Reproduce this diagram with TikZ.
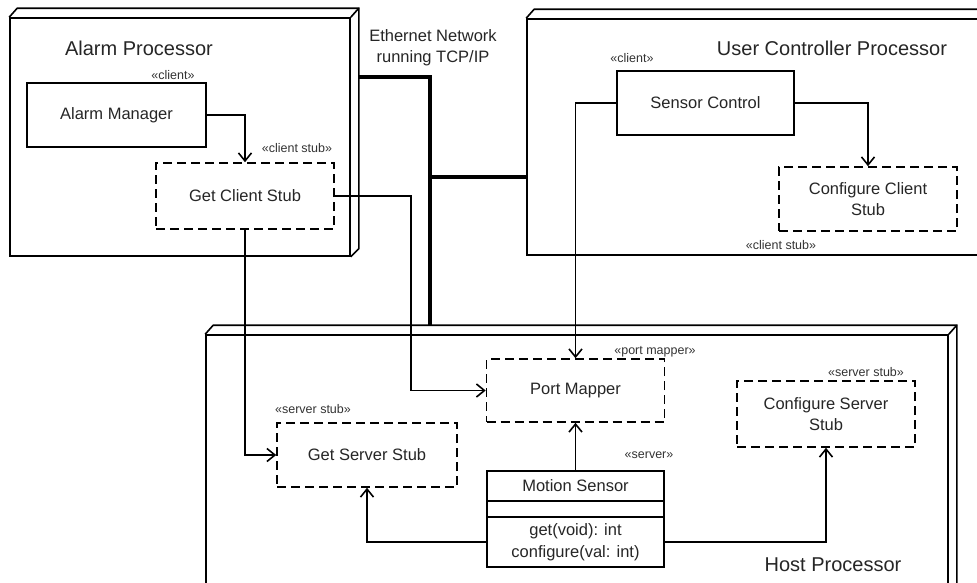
\documentclass[tikz,border=0pt]{standalone}
\usepackage{fontspec}
\setmainfont{Liberation Sans}
\usetikzlibrary{arrows.meta,calc}
\tikzset{
  comp/.style={draw, line width=1.6pt, minimum width=178pt, minimum height=64pt, align=center, inner sep=0pt, font=\fontsize{16.5}{21}\selectfont, text=black!85},
  stub/.style={comp, dash pattern=on 9pt off 5pt},
  proc/.style={draw, line width=1.6pt, inner sep=0pt},
  stereo/.style={font=\fontsize{12.5}{14}\selectfont, text=black!80, inner sep=0pt},
  title/.style={font=\fontsize{20}{24}\selectfont, text=black!85, inner sep=0pt},
  conn/.style={line width=1.6pt, -{Straight Barb[length=8pt, width=13pt, line width=1.6pt]}},
  net/.style={line width=4.5pt}
}
\begin{document}
\begin{tikzpicture}[x=1pt, y=-1pt]
    \clip (0,0) rectangle (977,582);
    \fill[white] (0,0) rectangle (977,582);
    %processors
    \node[proc, minimum width=340pt, minimum height=238pt] (ap) at (180,137) {};
    \node[proc, minimum width=480pt, minimum height=236pt] (ucp) at (767,137) {};
    \node[proc, minimum width=742pt, minimum height=265pt] (hp) at (577,467.5) {};
    \foreach \p in {ap,ucp,hp}{
        \draw[line width=1.6pt] (\p.north west) -- ++(8,-9) -| ($(\p.south east)+(8,-8)$) -- (\p.south east);
        \draw[line width=1.6pt] (\p.north east) -- ++(8,-9);
    }
    \node[title] (aptitle) at (139,48) {Alarm Processor};
    \node[title] (ucptitle) at (832,48) {User Controller Processor};
    \node[title] (hptitle) at (833,565) {Host Processor};
    \node[font=\fontsize{16.5}{21}\selectfont, align=center, text=black!85, inner sep=0pt] (eth) at (433,48) {Ethernet Network\\running TCP/IP};
    %network
    \coordinate (apport) at ($(ap.north east)+(8,60)$);
    \coordinate (hub) at (430,177);
    \draw[net] (apport) -| (hub) -- ($(hub |- hp.north)+(0,-8)$);
    \draw[net] (hub) -- (hub -| ucp.west);
    %components
    \node[comp, minimum width=179pt] (am) at (116.5,115) {Alarm Manager};
    \node[stub, minimum height=66pt] (gcs) at (245,196) {Get Client Stub};
    \node[comp, minimum width=177pt] (sc) at (705.5,103) {Sensor Control};
    \node[stub] (ccs) at (868,199) {Configure Client\\Stub};
    \node[stub, minimum height=63pt] (pm) at (575.5,390.5) {Port Mapper};
    \node[stub, minimum width=180pt] (gss) at (367,455) {Get Server Stub};
    \node[stub, minimum height=66pt] (css) at (826,414) {Configure Server\\Stub};
    %class
    \node[comp, minimum width=177pt, minimum height=30pt] (msname) at (575.5,486) {Motion Sensor};
    \node[comp, minimum width=177pt, minimum height=16pt] (msattr) at (575.5,509) {};
    \node[comp, minimum width=177pt, minimum height=50pt, font=\fontsize{16.5}{22}\selectfont] (msops) at (575.5,542) {get(void): int\\configure(val: int)};
    %stereotypes
    \node[stereo] (amst) at (173,75) {«client»};
    \node[stereo] (gcsst) at (297,148) {«client stub»};
    \node[stereo] (scst) at (632,58) {«client»};
    \node[stereo] (ccsst) at (781,245) {«client stub»};
    \node[stereo] (pmst) at (655,352) {«port mapper»};
    \node[stereo] (gssst) at (313,409) {«server stub»};
    \node[stereo] (cssst) at (866,372) {«server stub»};
    \node[stereo] (msst) at (649,455) {«server»};
    %connectors
    \draw[conn] (am.east) -| (gcs.north);
    \draw[conn] (gcs.south) |- (gss.west);
    \draw[conn] (gcs.east) -- ++(76,0) |- (pm.west);
    \draw[conn] (sc.west) -| (pm.north);
    \draw[conn] (sc.east) -| (ccs.north);
    \draw[conn] (msname.north) -- (pm.south);
    \draw[conn] (msops.west) -| (gss.south);
    \draw[conn] (msops.east) -| (css.south);
\end{tikzpicture}
\end{document}
